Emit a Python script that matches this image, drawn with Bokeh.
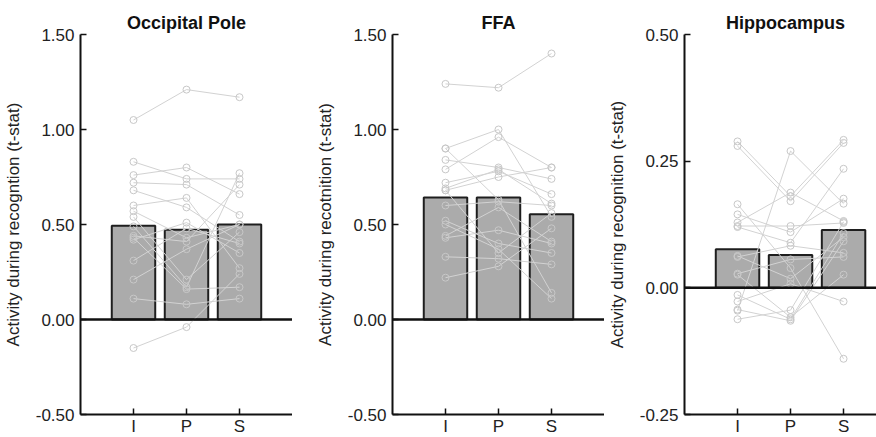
from bokeh.plotting import figure
from bokeh.layouts import row
from bokeh.models import Range1d, FixedTicker, Span, NumeralTickFormatter
from bokeh.embed import file_html
from bokeh.resources import INLINE

# ---------------- data ----------------
conditions = ["I", "P", "S"]
cond_x = [1, 2, 3]

titles = ["Occipital Pole", "FFA", "Hippocampus"]
ylabels = ["Activity during recogntion (t-stat)",
           "Activity during recotnition (t-stat)",
           "Activity during recognition (t-stat)"]

# group means (bars)
occ_bar = [0.493, 0.472, 0.500]
ffa_bar = [0.642, 0.642, 0.554]
hip_bar = [0.076, 0.065, 0.114]

# individual subjects (I, P, S)
occ_I = [1.05, 0.83, 0.76, 0.72, 0.68, 0.60, 0.57, 0.54, 0.49, 0.44, 0.42, 0.31, 0.21, 0.11, -0.15, 0.43]
occ_P = [1.21, 0.74, 0.80, 0.71, 0.59, 0.64, 0.43, 0.21, 0.17, 0.41, 0.51, 0.48, 0.37, 0.08, -0.04, 0.16]
occ_S = [1.17, 0.74, 0.66, 0.55, 0.41, 0.27, 0.50, 0.46, 0.77, 0.71, 0.35, 0.40, 0.50, 0.11, 0.24, 0.17]

ffa_I = [1.24, 0.90, 0.90, 0.84, 0.79, 0.72, 0.69, 0.68, 0.60, 0.52, 0.50, 0.44, 0.43, 0.33, 0.22, 0.68]
ffa_P = [1.22, 1.00, 0.63, 0.80, 0.96, 0.78, 0.79, 0.75, 0.62, 0.40, 0.37, 0.59, 0.47, 0.32, 0.28, 0.35]
ffa_S = [1.40, 0.54, 0.14, 0.74, 0.80, 0.66, 0.61, 0.80, 0.60, 0.35, 0.11, 0.41, 0.40, 0.29, 0.48, 0.56]

hip_I = [0.289, 0.280, 0.165, 0.145, 0.129, 0.122, 0.120, 0.063, 0.061, 0.028, 0.026, -0.014, -0.027, -0.043, -0.045, -0.062]
hip_P = [0.181, 0.171, 0.039, 0.110, 0.188, 0.122, 0.089, 0.018, 0.083, 0.056, -0.058, -0.062, 0.008, -0.065, 0.270, -0.044]
hip_S = [0.292, 0.286, -0.140, 0.176, 0.132, 0.128, 0.235, 0.100, 0.069, 0.061, 0.026, 0.108, -0.027, 0.092, 0.166, 0.130]

occ_ticks = [-0.5, 0.0, 0.5, 1.0, 1.5]
ffa_ticks = [-0.5, 0.0, 0.5, 1.0, 1.5]
hip_ticks = [-0.25, 0.0, 0.25, 0.5]

FONT = "Liberation Sans"
TXT = "#222222"


def make_panel(title, ylabel, bars, I, P, S, yticks, frame_w, xmax, left):
    p = figure(frame_width=frame_w, frame_height=380,
               x_range=Range1d(0, xmax), y_range=Range1d(yticks[0], yticks[-1]),
               output_backend="svg", toolbar_location=None,
               min_border_left=left, min_border_right=0,
               min_border_top=34, min_border_bottom=21)
    p.title.text = title
    p.title.align = "center"
    p.title.text_font = FONT
    p.title.text_font_size = "18px"
    p.title.text_font_style = "bold"
    p.title.text_color = "#111111"
    p.title.standoff = 4
    p.outline_line_color = None
    p.xgrid.visible = False
    p.ygrid.visible = False

    p.vbar(x=cond_x, top=bars, bottom=0, width=0.82,
           fill_color="#ababab", line_color="#1e1e1e", line_width=2)

    xs = [cond_x for _ in I]
    ys = [[a, b, c] for a, b, c in zip(I, P, S)]
    p.multi_line(xs, ys, line_color="#d2d2d2", line_width=1)
    px = [cond_x[0]] * len(I) + [cond_x[1]] * len(P) + [cond_x[2]] * len(S)
    py = list(I) + list(P) + list(S)
    p.scatter(px, py, marker="circle", size=7, fill_alpha=0,
              line_color="#c8c8c8", line_width=1)

    p.add_layout(Span(location=0, dimension="width", line_color="#111111", line_width=2.5))

    p.xaxis.ticker = FixedTicker(ticks=cond_x)
    p.xaxis.major_label_overrides = {x: c for x, c in zip(cond_x, conditions)}
    p.yaxis.ticker = FixedTicker(ticks=yticks)
    p.yaxis.formatter = NumeralTickFormatter(format="0.00")
    p.yaxis.axis_label = ylabel
    for ax in (p.xaxis, p.yaxis):
        ax.axis_line_width = 2
        ax.axis_line_color = "#111111"
        ax.major_tick_in = 6
        ax.major_tick_out = 0
        ax.major_tick_line_width = 1.5
        ax.major_tick_line_color = "#111111"
        ax.minor_tick_line_color = None
        ax.major_label_text_font = FONT
        ax.major_label_text_font_size = "17px"
        ax.major_label_text_color = TXT
    p.xaxis.major_label_standoff = 2
    p.yaxis.major_label_standoff = 6
    p.yaxis.axis_label_text_font = FONT
    p.yaxis.axis_label_text_font_size = "17px"
    p.yaxis.axis_label_text_font_style = "normal"
    p.yaxis.axis_label_text_color = TXT
    p.yaxis.axis_label_standoff = 10
    return p


p1 = make_panel(titles[0], ylabels[0], occ_bar, occ_I, occ_P, occ_S, occ_ticks, 212, 4.0, 78)
p2 = make_panel(titles[1], ylabels[1], ffa_bar, ffa_I, ffa_P, ffa_S, ffa_ticks, 212, 4.0, 100)
p3 = make_panel(titles[2], ylabels[2], hip_bar, hip_I, hip_P, hip_S, hip_ticks, 202, 3.81, 70)

layout = row(p1, p2, p3, spacing=0)
open("out.html", "w").write(file_html(layout, INLINE))
